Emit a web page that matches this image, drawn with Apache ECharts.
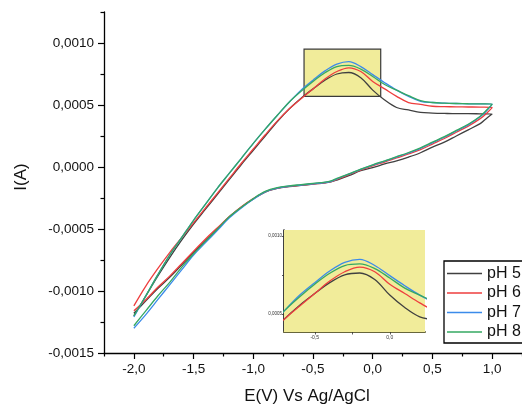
<!DOCTYPE html>
<html>
<head>
<meta charset="utf-8">
<script src="https://cdn.jsdelivr.net/npm/echarts@6/dist/echarts.min.js"></script>
<style>
html,body{margin:0;padding:0;background:#fff;}
#chart{width:522px;height:405px;}
</style>
</head>
<body>
<div id="chart"></div>
<script>
// ---- data ----
const seriesNames = ['pH 5', 'pH 6', 'pH 7', 'pH 8'];
const seriesColors = ['#404040', '#EE3E3E', '#3B8BEA', '#35A862'];

// forward (upper) branch potentials, V
const xUp = [-2.0,-1.9,-1.8,-1.7,-1.6,-1.5,-1.4,-1.3,-1.2,-1.1,-1.0,-0.9,-0.8,-0.7,-0.6,-0.5,-0.4,-0.3,-0.2,-0.1,0.0,0.1,0.2,0.3,0.4,0.5,0.6,0.7,0.8,0.9,1.0];
const pH5Up = [-0.0012,-0.00104,-0.00088,-0.00073,-0.00059,-0.00046,-0.00034,-0.00022,-0.0001,0.00002,0.000135,0.00025,0.000365,0.000468,0.000555,0.00063,0.0007,0.00075,0.000762,0.00072,0.00062,0.00054,0.00048,0.00046,0.00044,0.000435,0.000432,0.00043,0.00043,0.000429,0.000428];
const pH6Up = [-0.00112,-0.00096,-0.00082,-0.00069,-0.00057,-0.00045,-0.00033,-0.00021,-0.00009,0.00003,0.000145,0.00026,0.00037,0.000468,0.00055,0.00063,0.00071,0.00077,0.0008,0.00077,0.00069,0.00063,0.00057,0.00052,0.000505,0.00049,0.000487,0.000485,0.000484,0.000483,0.00048];
const pH7Up = [-0.00121,-0.00104,-0.00087,-0.00071,-0.00057,-0.00043,-0.0003,-0.00017,-0.00005,0.00007,0.00019,0.000305,0.000415,0.000522,0.00062,0.0007,0.000775,0.00083,0.00085,0.00081,0.000745,0.00068,0.00062,0.00057,0.00053,0.00052,0.000515,0.000512,0.00051,0.000509,0.000508];
const pH8Up = [-0.0012,-0.00104,-0.00087,-0.00071,-0.00057,-0.00043,-0.0003,-0.00017,-0.00005,0.00007,0.00019,0.000305,0.000415,0.000522,0.00061,0.00069,0.00076,0.00081,0.00082,0.00079,0.00073,0.000665,0.00062,0.000575,0.000535,0.00052,0.000515,0.000512,0.00051,0.000509,0.000508];

// reverse (lower) branch potentials, V
const xDown = [1.0,0.95,0.9,0.8,0.7,0.6,0.5,0.4,0.3,0.2,0.1,0.0,-0.1,-0.2,-0.3,-0.35,-0.4,-0.5,-0.6,-0.7,-0.8,-0.9,-1.0,-1.1,-1.2,-1.3,-1.4,-1.5,-1.6,-1.7,-1.8,-1.9,-2.0];
const pH5Down = [0.000428,0.00039,0.00035,0.0003,0.00025,0.0002,0.00016,0.000115,0.00008,0.00005,0.000025,-0.000005,-0.00003,-0.00007,-0.000105,-0.00012,-0.000128,-0.000138,-0.000148,-0.000158,-0.000173,-0.000202,-0.000258,-0.000325,-0.000402,-0.0005,-0.00059,-0.00069,-0.00079,-0.00089,-0.00098,-0.00108,-0.00118];
const pH6Down = [0.00048,0.00043,0.00039,0.00033,0.00028,0.00023,0.000185,0.00014,0.000105,0.000073,0.00004,0.00001,-0.000025,-0.000062,-0.0001,-0.000118,-0.000127,-0.000137,-0.000147,-0.000157,-0.000172,-0.0002,-0.000255,-0.00032,-0.0004,-0.00049,-0.00058,-0.00068,-0.00078,-0.00088,-0.00097,-0.00107,-0.00116];
const pH7Down = [0.000508,0.00045,0.000405,0.00034,0.00029,0.00024,0.000195,0.00015,0.000113,0.00008,0.000047,0.000015,-0.00002,-0.000058,-0.000095,-0.000115,-0.000125,-0.000135,-0.000145,-0.000155,-0.00017,-0.0002,-0.00026,-0.00033,-0.00041,-0.00051,-0.00061,-0.00071,-0.00083,-0.00095,-0.00107,-0.00119,-0.0013];
const pH8Down = [0.000508,0.000455,0.00041,0.000345,0.000295,0.000245,0.0002,0.000155,0.000117,0.000083,0.00005,0.000018,-0.000017,-0.000055,-0.000092,-0.000112,-0.000122,-0.000132,-0.000142,-0.000152,-0.000167,-0.000197,-0.000255,-0.000325,-0.000402,-0.0005,-0.0006,-0.0007,-0.00081,-0.00093,-0.00104,-0.00116,-0.00128];

// tick values
const xTicksMajor = [-2.0,-1.5,-1.0,-0.5,0.0,0.5,1.0];
const xTicksMinor = [-2.25,-1.75,-1.25,-0.75,-0.25,0.25,0.75,1.25];
const yTicksMajor = [-0.0015,-0.001,-0.0005,0,0.0005,0.001];
const yTicksMinor = [-0.00125,-0.00075,-0.00025,0.00025,0.00075,0.00125];
const insetXTicks = [-0.5,-0.25,0];
const insetXLabels = [-0.5,0];
const insetYTicks = [0.0005,0.00075,0.001];
const insetYLabels = [0.0005,0.001];

// zoom-box region (data units) shown in the inset
const zoomBox = {x0: -0.575, x1: 0.067, y0: 0.00057, y1: 0.00095};

// ---- build ----
const ups = [pH5Up, pH6Up, pH7Up, pH8Up];
const downs = [pH5Down, pH6Down, pH7Down, pH8Down];
function loop(i) {
  return xUp.map((x, k) => [x, ups[i][k]]).concat(xDown.map((x, k) => [x, downs[i][k]]));
}
const FONT = "'Liberation Sans', Arial, sans-serif";
const fmt4 = v => v.toFixed(4).replace('.', ',');
const fmt1 = v => v.toFixed(1).replace('.', ',');

const chart = echarts.init(document.getElementById('chart'), null, {renderer: 'canvas'});

const series = [{
  type: 'line', xAxisIndex: 0, yAxisIndex: 0, data: [], silent: true, z: 1,
  markArea: {
    silent: true,
    itemStyle: {color: '#F1EC9A', borderColor: '#3a3a3a', borderWidth: 1.2},
    data: [[{coord: [zoomBox.x0, zoomBox.y1]}, {coord: [zoomBox.x1, zoomBox.y0]}]]
  }
}];
seriesNames.forEach((n, i) => {
  const d = loop(i);
  series.push({
    name: n, type: 'line', xAxisIndex: 0, yAxisIndex: 0, data: d,
    symbol: 'none', smooth: 0.35, z: 3 + i,
    lineStyle: {color: seriesColors[i], width: 1.3}, itemStyle: {color: seriesColors[i]}
  });
  series.push({
    name: n, type: 'line', xAxisIndex: 2, yAxisIndex: 2, data: d,
    symbol: 'none', smooth: 0.35, z: 3 + i, clip: true,
    lineStyle: {color: seriesColors[i], width: 1.3}, itemStyle: {color: seriesColors[i]}
  });
});

const option = {
  animation: false,
  backgroundColor: '#ffffff',
  textStyle: {fontFamily: FONT},
  grid: [
    {left: 104, right: -3, top: 12, bottom: 52, containLabel: false},
    {left: 284, top: 230, width: 141, height: 102, show: true, backgroundColor: '#F1EC9A', borderWidth: 0, z: 2}
  ],
  xAxis: [
    {gridIndex: 0, type: 'value', min: -2.25, max: 1.25, position: 'bottom',
     axisLine: {onZero: false, lineStyle: {color: '#000', width: 1.3}},
     axisTick: {customValues: xTicksMajor, length: 6, lineStyle: {color: '#000', width: 1.2}},
     axisLabel: {customValues: xTicksMajor, formatter: fmt1, fontSize: 13.5, color: '#111', margin: 9, fontFamily: FONT},
     splitLine: {show: false}},
    {gridIndex: 0, type: 'value', min: -2.25, max: 1.25, position: 'bottom',
     axisLine: {show: false, onZero: false},
     axisTick: {customValues: xTicksMinor, length: 3.5, lineStyle: {color: '#000', width: 1.2}},
     axisLabel: {show: false}, splitLine: {show: false}},
    {gridIndex: 1, type: 'value', min: -0.705, max: 0.235, position: 'bottom',
     axisLine: {onZero: false, lineStyle: {color: '#67663c', width: 2}},
     axisTick: {customValues: insetXTicks, length: 2.5, lineStyle: {color: '#333', width: 0.8}},
     axisLabel: {customValues: insetXLabels, formatter: fmt1, fontSize: 5, color: '#333', margin: 3, fontFamily: FONT},
     splitLine: {show: false}}
  ],
  yAxis: [
    {gridIndex: 0, type: 'value', min: -0.0015, max: 0.00125, position: 'left',
     axisLine: {show: true, onZero: false, lineStyle: {color: '#000', width: 1.3}},
     axisTick: {show: true, customValues: yTicksMajor, length: 6, lineStyle: {color: '#000', width: 1.2}},
     axisLabel: {customValues: yTicksMajor, formatter: fmt4, fontSize: 13.5, color: '#111', margin: 10, fontFamily: FONT},
     splitLine: {show: false}},
    {gridIndex: 0, type: 'value', min: -0.0015, max: 0.00125, position: 'left',
     axisLine: {show: false, onZero: false},
     axisTick: {show: true, customValues: yTicksMinor, length: 3.5, lineStyle: {color: '#000', width: 1.2}},
     axisLabel: {show: false}, splitLine: {show: false}},
    {gridIndex: 1, type: 'value', min: 0.000383, max: 0.001038, position: 'left',
     axisLine: {show: true, onZero: false, lineStyle: {color: '#000', width: 1.5}},
     axisTick: {show: true, customValues: insetYTicks, length: 2, lineStyle: {color: '#333', width: 0.8}},
     axisLabel: {customValues: insetYLabels, formatter: fmt4, fontSize: 4.5, color: '#333', margin: 2, fontFamily: FONT},
     splitLine: {show: false}}
  ],
  legend: {
    data: seriesNames.map(n => ({name: n, icon: 'rect'})), orient: 'vertical', left: 444, top: 261,
    itemWidth: 35, itemHeight: 1.6, itemGap: 3.5, itemTextGap: 4,
    padding: [4.5, 10, 3, 3],
    borderColor: '#000', borderWidth: 1.3, backgroundColor: '#fff',
    textStyle: {fontSize: 16, lineHeight: 16, color: '#111', fontFamily: FONT},
    selectedMode: false, z: 10
  },
  graphic: [
    {type: 'text', x: 21, y: 177, rotation: Math.PI / 2,
     style: {text: 'I(A)', font: '17px ' + FONT, fill: '#111', textAlign: 'center', textVerticalAlign: 'middle'}},
    {type: 'text', x: 307, y: 396,
     style: {text: 'E(V) Vs Ag/AgCl', font: '17px ' + FONT, fill: '#111', textAlign: 'center', textVerticalAlign: 'middle'}}
  ],
  series: series
};
chart.setOption(option);
</script>
</body>
</html>
